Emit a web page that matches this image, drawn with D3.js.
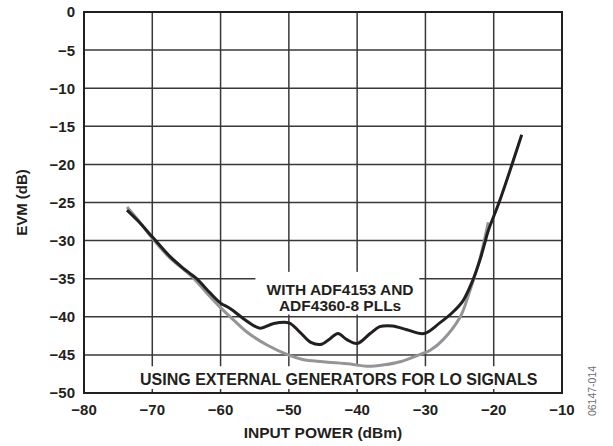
<!DOCTYPE html>
<html>
<head>
<meta charset="utf-8">
<script src="https://cdn.jsdelivr.net/npm/d3@7"></script>
<style>
  body { margin: 0; background: #fff; }
  text { font-family: "Liberation Sans", Arial, sans-serif; fill: #231f20; }
</style>
</head>
<body>
<div id="chart"></div>
<script>
// Tick values
const xTicks = [-80, -70, -60, -50, -40, -30, -20, -10];
const yTicks = [0, -5, -10, -15, -20, -25, -30, -35, -40, -45, -50];

// With ADF4153 and ADF4360-8 PLLs (input power dBm, EVM dB)
const pllPower = [-73.7, -72, -70, -67.5, -65.5, -64.5, -63.5, -61.5, -60, -58.6, -56.1, -54.2, -52.3, -50, -48.4, -46.7, -45.2, -44, -42.8, -41.5, -40, -38.1, -36.7, -34.8, -32.7, -30.2, -27.9, -26, -24.5, -23.2, -22, -21.3, -20.8, -19.1, -15.9];
const pllEvm = [-26.0, -27.5, -29.5, -32.0, -33.6, -34.3, -35.0, -36.9, -38.2, -38.9, -40.6, -41.5, -40.9, -40.8, -42.0, -43.4, -43.6, -42.9, -42.2, -43.0, -43.5, -42.2, -41.3, -41.2, -41.7, -42.2, -40.8, -39.4, -37.9, -35.5, -32.5, -30.3, -28.7, -24.7, -16.1];

// Using external generators for LO signals
const extPower = [-73.7, -72, -70, -67.5, -65.5, -64, -62, -60, -58, -56, -53.2, -50.1, -48, -45, -41, -38.6, -36, -33.7, -30.4, -29.3, -27.4, -24.9, -23.5, -22, -20.8];
const extEvm = [-25.6, -27.4, -29.7, -32.2, -33.7, -34.9, -36.9, -38.8, -40.5, -42.1, -43.7, -45.0, -45.6, -45.9, -46.2, -46.5, -46.3, -45.9, -44.8, -44.4, -43.0, -40.0, -36.6, -32.3, -27.6];

const margin = { top: 12, right: 51, bottom: 53, left: 84 };
const width = 613 - margin.left - margin.right;
const height = 446 - margin.top - margin.bottom;

const svg = d3.select("#chart")
  .append("svg")
  .attr("width", 613)
  .attr("height", 446)
  .append("g")
  .attr("transform", `translate(${margin.left}, ${margin.top})`);

const x = d3.scaleLinear().domain([-80, -10]).range([0, width]);
const y = d3.scaleLinear().domain([-50, 0]).range([height, 0]);

// Grid
svg.append("g")
  .selectAll("line.h")
  .data(yTicks.slice(1, -1))
  .enter().append("line")
  .attr("x1", 0).attr("x2", width)
  .attr("y1", d => y(d)).attr("y2", d => y(d))
  .attr("stroke", "#3a3738").attr("stroke-width", 1.5);

svg.append("g")
  .selectAll("line.v")
  .data(xTicks.slice(1, -1))
  .enter().append("line")
  .attr("x1", d => x(d)).attr("x2", d => x(d))
  .attr("y1", 0).attr("y2", y(-46.5))
  .attr("stroke", "#3a3738").attr("stroke-width", 1.5);

// White backing for the annotation and the bottom label
svg.append("rect")
  .attr("x", x(-54.9)).attr("y", y(-34.1))
  .attr("width", x(-30.9) - x(-54.9))
  .attr("height", y(-39.7) - y(-34.1))
  .attr("fill", "#fff");

svg.append("rect")
  .attr("x", 1).attr("y", y(-46.5) + 0.75)
  .attr("width", width - 2)
  .attr("height", height - y(-46.5))
  .attr("fill", "#fff");

// Small ticks on the bottom edge
svg.append("g")
  .selectAll("line")
  .data(xTicks.slice(1, -1))
  .enter().append("line")
  .attr("x1", d => x(d)).attr("x2", d => x(d))
  .attr("y1", height - 4).attr("y2", height)
  .attr("stroke", "#3a3738").attr("stroke-width", 1.5);

// Frame
svg.append("rect")
  .attr("width", width).attr("height", height)
  .attr("fill", "none")
  .attr("stroke", "#231f20").attr("stroke-width", 2);

// Curves
const line = d3.line()
  .x(d => x(d[0]))
  .y(d => y(d[1]))
  .curve(d3.curveCatmullRom.alpha(0.5));

svg.append("path")
  .datum(extPower.map((p, i) => [p, extEvm[i]]))
  .attr("d", line)
  .attr("fill", "none")
  .attr("stroke", "#939598")
  .attr("stroke-width", 3);

svg.append("path")
  .datum(pllPower.map((p, i) => [p, pllEvm[i]]))
  .attr("d", line)
  .attr("fill", "none")
  .attr("stroke", "#231f20")
  .attr("stroke-width", 3);

// Tick labels
svg.append("g")
  .selectAll("text")
  .data(yTicks)
  .enter().append("text")
  .attr("x", -9)
  .attr("y", d => y(d))
  .attr("dy", "0.36em")
  .attr("text-anchor", "end")
  .style("font-size", "15px")
  .style("font-weight", "bold")
  .text(d => d3.format("d")(d).replace("-", "\u2013"));

svg.append("g")
  .selectAll("text")
  .data(xTicks)
  .enter().append("text")
  .attr("x", d => x(d))
  .attr("y", height + 22)
  .attr("text-anchor", "middle")
  .style("font-size", "15px")
  .style("font-weight", "bold")
  .text(d => d3.format("d")(d).replace("-", "\u2013"));

// Axis titles
svg.append("text")
  .attr("transform", "rotate(-90)")
  .attr("x", -height / 2)
  .attr("y", -57)
  .attr("text-anchor", "middle")
  .style("font-size", "15px")
  .style("font-weight", "bold")
  .text("EVM (dB)");

svg.append("text")
  .attr("x", width / 2)
  .attr("y", height + 45)
  .attr("text-anchor", "middle")
  .style("font-size", "15.5px")
  .style("font-weight", "bold")
  .text("INPUT POWER (dBm)");

// Annotations
const note = svg.append("text")
  .attr("text-anchor", "middle")
  .style("font-size", "15.5px")
  .style("font-weight", "bold");
note.append("tspan").attr("x", x(-42.5)).attr("y", 283).text("WITH ADF4153 AND");
note.append("tspan").attr("x", x(-42.5)).attr("y", 299).text("ADF4360-8 PLLs");

svg.append("text")
  .attr("x", x(-42.7))
  .attr("y", 373)
  .attr("text-anchor", "middle")
  .style("font-size", "16px")
  .style("font-weight", "bold")
  .text("USING EXTERNAL GENERATORS FOR LO SIGNALS");

// Figure code
svg.append("text")
  .attr("transform", `translate(${width + 34}, ${height - 2}) rotate(-90)`)
  .attr("text-anchor", "middle")
  .style("font-size", "10.5px")
  .style("fill", "#6d6e71")
  .text("06147-014");
</script>
</body>
</html>
